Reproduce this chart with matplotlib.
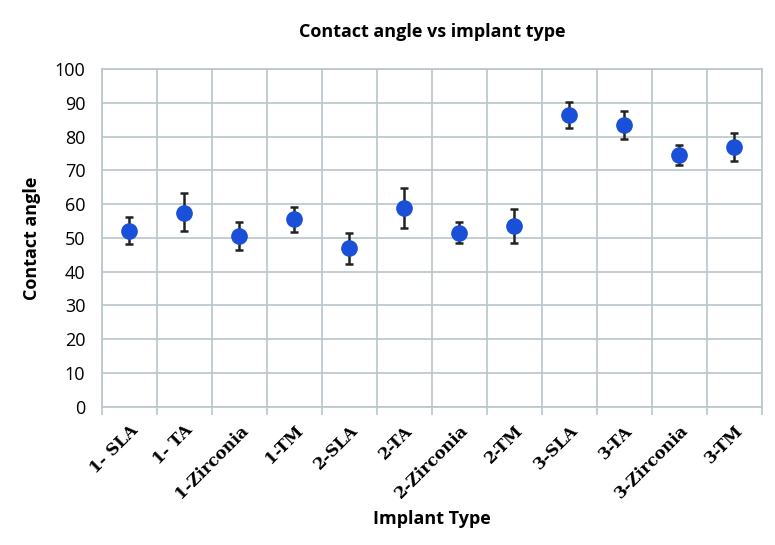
import numpy as np
import matplotlib.pyplot as plt

implant_types = ['1- SLA', '1- TA', '1-Zirconia', '1-TM', '2-SLA', '2-TA',
                 '2-Zirconia', '2-TM', '3-SLA', '3-TA', '3-Zirconia', '3-TM']
contact_angle = [52.1, 57.5, 50.7, 55.6, 46.9, 58.8, 51.6, 53.5, 86.5, 83.5, 74.5, 76.9]
err_low = [4.0, 5.4, 4.2, 3.7, 4.5, 5.9, 3.2, 5.1, 4.0, 4.3, 3.0, 4.2]
err_high = [4.0, 5.7, 4.0, 3.7, 4.6, 6.1, 3.1, 5.0, 3.8, 4.1, 3.1, 4.2]

plt.rcParams['font.family'] = ['Open Sans', 'DejaVu Sans']
grid_col = '#b9c6cc'

fig = plt.figure(figsize=(7.75, 5.45), dpi=100)
ax = fig.add_axes([0.1316, 0.2538, 0.8514, 0.6192])

x = np.arange(len(implant_types))
ax.errorbar(x, contact_angle, yerr=[err_low, err_high], fmt='o', color='#1a50d8',
            markersize=11, ecolor='#222222', elinewidth=1.8, capsize=3, capthick=1.8, zorder=3)

ax.set_xlim(-0.5, len(implant_types) - 0.5)
ax.set_ylim(0, 100)
ax.set_yticks(np.arange(0, 101, 10))
ax.set_xticks(x)
ax.set_xticklabels(implant_types, rotation=45, ha='right', rotation_mode='anchor',
                   fontsize=12, fontweight='bold', family=['DejaVu Serif'])
ax.set_xticks(np.arange(-0.5, len(implant_types), 1), minor=True)
ax.tick_params(axis='x', which='major', length=0, pad=11)
ax.tick_params(axis='x', which='minor', length=6, color=grid_col, width=1.2)
ax.tick_params(axis='y', length=0, labelsize=13, pad=12)

ax.grid(True, axis='y', color=grid_col, linewidth=1.2)
ax.grid(True, axis='x', which='minor', color=grid_col, linewidth=1.2)
ax.set_axisbelow(True)
for s in ax.spines.values():
    s.set_color(grid_col)
    s.set_linewidth(1.2)

ax.set_title('Contact angle vs implant type', fontsize=13, fontweight='bold', pad=23.5)
ax.set_ylabel('Contact angle', fontsize=13, fontweight='bold', labelpad=10)
ax.set_xlabel('Implant Type', fontsize=13, fontweight='bold', labelpad=6)

fig.savefig('out.png', dpi=100)
